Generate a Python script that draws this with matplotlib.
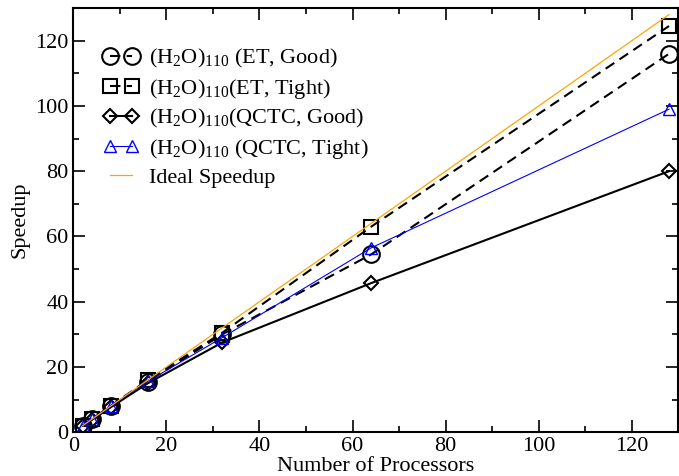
import matplotlib
matplotlib.use("Agg")
import matplotlib.pyplot as plt
from matplotlib.ticker import MultipleLocator

plt.rcParams['font.family'] = ['Liberation Serif', 'DejaVu Serif']
plt.rcParams['mathtext.fontset'] = 'custom'
plt.rcParams['mathtext.rm'] = 'Liberation Serif'
plt.rcParams['mathtext.default'] = 'regular'

# processor counts and measured speedups
procs = [2, 4, 8, 16, 32, 64, 128]
et_good = [2.0, 4.0, 8.0, 15.5, 30.0, 54.5, 116.0]
et_tight = [2.0, 4.0, 8.0, 16.0, 30.5, 63.0, 124.5]
qctc_good = [2.0, 3.8, 7.6, 15.0, 27.5, 45.7, 80.0]
qctc_tight = [2.0, 4.0, 8.0, 15.6, 29.0, 56.5, 99.0]
ideal = [2, 4, 8, 16, 32, 64, 128]

labels = [r'(H$_2$O)$_{110}$ (ET, Good)',
          r'(H$_2$O)$_{110}$(ET, Tight)',
          r'(H$_2$O)$_{110}$(QCTC, Good)',
          r'(H$_2$O)$_{110}$ (QCTC, Tight)',
          'Ideal Speedup']

fig = plt.figure(figsize=(6.79, 4.76), dpi=100)
ax = fig.add_axes([0.108, 0.092, 0.891, 0.891])

ax.plot(procs, et_good, color='black', lw=1.5, ls=(0, (5, 3)), marker='o',
        ms=12, mfc='none', mec='black', mew=1.5, label=labels[0])
ax.plot(procs, et_tight, color='black', lw=1.5, ls=(0, (5, 3)), marker='s',
        ms=10, mfc='none', mec='black', mew=1.5, label=labels[1])
ax.plot(procs, qctc_good, color='black', lw=1.5, marker='D',
        ms=7.5, mfc='none', mec='black', mew=1.5, label=labels[2])
ax.plot(procs, qctc_tight, color='blue', lw=0.8, marker='^',
        ms=9, mfc='none', mec='blue', mew=1.0, label=labels[3])
ax.plot(procs, ideal, color='orange', lw=0.9, label=labels[4])

ax.set_xlim(0, 130)
ax.set_ylim(0, 130)
ax.xaxis.set_major_locator(MultipleLocator(20))
ax.xaxis.set_minor_locator(MultipleLocator(10))
ax.yaxis.set_major_locator(MultipleLocator(20))
ax.yaxis.set_minor_locator(MultipleLocator(10))
ax.tick_params(which='both', direction='in', top=True, right=True,
               labelsize=16, width=1.2)
ax.tick_params(which='major', length=8.5)
ax.tick_params(which='minor', length=4.5)
for s in ax.spines.values():
    s.set_linewidth(1.5)

ax.set_xlabel('Number of Processors', fontsize=16, labelpad=0.5)
ax.set_ylabel('Speedup', fontsize=16, labelpad=4)

ax.legend(loc='upper left', bbox_to_anchor=(0.028, 0.94), frameon=False,
          fontsize=16, numpoints=2, handlelength=1.6, handletextpad=0.45,
          labelspacing=0.3, borderaxespad=0.2)

fig.savefig('out.png', dpi=100)
